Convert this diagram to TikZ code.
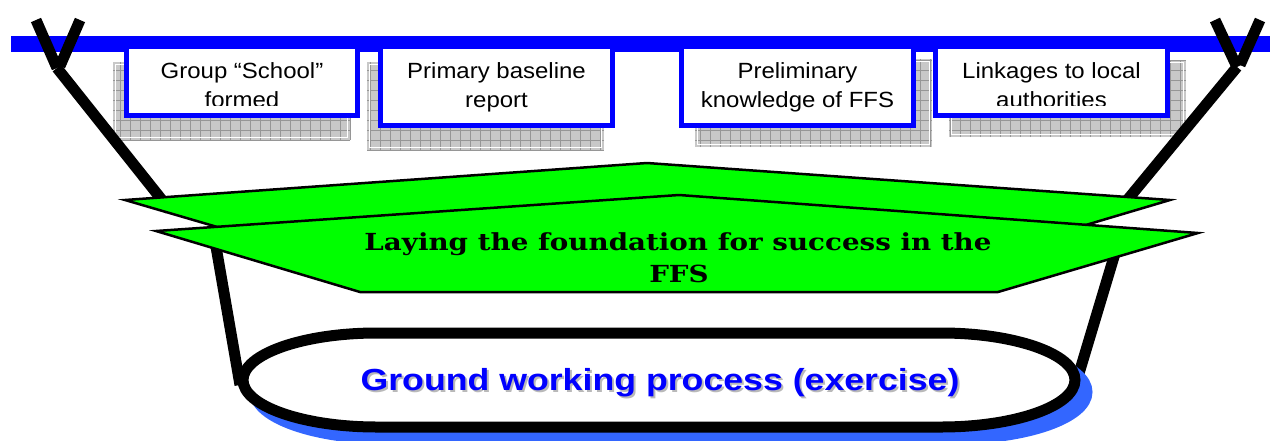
\documentclass[tikz,border=0pt]{standalone}
\usepackage{fontspec}
\setmainfont{Liberation Sans}
\newfontfamily\notefont[FakeStretch=1.09]{Liberation Sans}
\newfontfamily\groundfont[FakeStretch=1.17]{Liberation Sans}
\newfontfamily\rooffont[FakeStretch=1.18]{DejaVu Serif}
\definecolor{barblue}{RGB}{0,0,255}
\definecolor{padblue}{RGB}{51,102,255}
\definecolor{leafgreen}{RGB}{0,255,0}
\definecolor{shadowgray}{RGB}{200,200,200}
\definecolor{gridgray}{RGB}{150,150,150}
\tikzset{
  notebox/.style={draw=barblue, line width=5pt, fill=white, inner sep=0pt},
  notegrid/.style={draw=gridgray, line width=0.6pt},
  notetext/.style={anchor=base, inner sep=0pt, font=\notefont\fontsize{22pt}{29pt}\selectfont},
  hook/.style={draw=black, line width=11pt, line cap=butt},
  roof/.style={draw=black, line width=2.5pt, fill=leafgreen, line join=miter},
  rooftext/.style={anchor=base, inner sep=0pt, font=\rooffont\bfseries\fontsize{23.5pt}{32pt}\selectfont},
  pad/.style={draw=black, line width=11pt, fill=white},
  padshadow/.style={draw=padblue, line width=11pt, fill=padblue},
  groundtext/.style={anchor=base, inner sep=0pt, text=barblue, font=\groundfont\bfseries\fontsize{30.5pt}{36pt}\selectfont},
}
\newcommand{\padoutline}{(377,333) -- (941,333) arc[start angle=-90, end angle=90, x radius=134, y radius=47] -- (377,427) arc[start angle=90, end angle=270, x radius=134, y radius=47] -- cycle}
\begin{document}
\begin{tikzpicture}[x=1pt, y=-1pt]
\useasboundingbox (0,0) rectangle (1270,440);
% shadows of the notes
\fill[shadowgray] (113,62) rectangle (350,140);
\draw[notegrid, step=10pt] (113,140) grid (350,62);
\draw[white, line width=1pt] (115.5,64.5) rectangle (347.5,137.5);
\fill[shadowgray] (367,62) rectangle (604,150);
\draw[notegrid, step=10pt] (367,150) grid (604,62);
\draw[white, line width=1pt] (369.5,64.5) rectangle (601.5,147.5);
\fill[shadowgray] (695,59) rectangle (932,147);
\draw[notegrid, step=10pt] (695,147) grid (932,59);
\draw[white, line width=1pt] (697.5,61.5) rectangle (929.5,144.5);
\fill[shadowgray] (949,60) rectangle (1186,137);
\draw[notegrid, step=10pt] (949,137) grid (1186,60);
\draw[white, line width=1pt] (951.5,62.5) rectangle (1183.5,134.5);
% bar and notes
\fill[barblue] (11,36) rectangle (1270,52);
\node[notebox, minimum width=231pt, minimum height=69pt] (school) at (242,81) {};
\node[notebox, minimum width=232pt, minimum height=79pt] (baseline) at (496.5,86) {};
\node[notebox, minimum width=232pt, minimum height=79pt] (knowledge) at (797.5,86) {};
\node[notebox, minimum width=232pt, minimum height=69pt] (linkages) at (1051.5,81) {};
\node[notetext] (school1) at (242,78) {Group “School”};
\begin{scope}
\clip (124,90) rectangle (360,105);
\node[notetext] (school2) at (242,107) {formed};
\end{scope}
\node[notetext] (baseline1) at (496.5,78) {Primary baseline};
\node[notetext] (baseline2) at (496.5,107) {report};
\node[notetext] (knowledge1) at (797.5,78) {Preliminary};
\node[notetext] (knowledge2) at (797.5,107) {knowledge of FFS};
\node[notetext] (linkages1) at (1051.5,78) {Linkages to local};
\begin{scope}
\clip (933,90) rectangle (1170,105);
\node[notetext] (linkages2) at (1051.5,107) {authorities};
\end{scope}
% hooks
\coordinate (lhook) at (57,68);
\coordinate (rhook) at (1237,67);
\draw[hook] (36,20) -- (lhook);
\draw[hook] (80,20) -- (60,66);
\draw[hook] (lhook) -- (170,210);
\draw[hook] (214,235) -- (240,385);
\draw[hook] (1215,20) -- (rhook);
\draw[hook] (1260,20) -- (1240,65);
\draw[hook] (rhook) -- (1119,210);
\draw[hook] (1119,240) -- (1077,380);
% roof
\draw[roof] (125,200) -- (647,163) -- (1170,200) -- (968,260) -- (330,260) -- cycle;
\draw[roof] (156,231) -- (679,195) -- (1198,233) -- (998,292) -- (360,292) -- cycle;
\node[rooftext] (laying) at (678,250) {Laying the foundation for success in the};
\begin{scope}
\clip (600,255) rectangle (760,284);
\node[rooftext] (ffs) at (679,282) {FFS};
\end{scope}
% pad
\draw[padshadow, shift={(12,12)}] \padoutline;
\draw[pad] \padoutline;
\node[groundtext, text=gray!55] at (662,392) {Ground working process (exercise)};
\node[groundtext] (ground) at (660,390) {Ground working process (exercise)};
\end{tikzpicture}
\end{document}
